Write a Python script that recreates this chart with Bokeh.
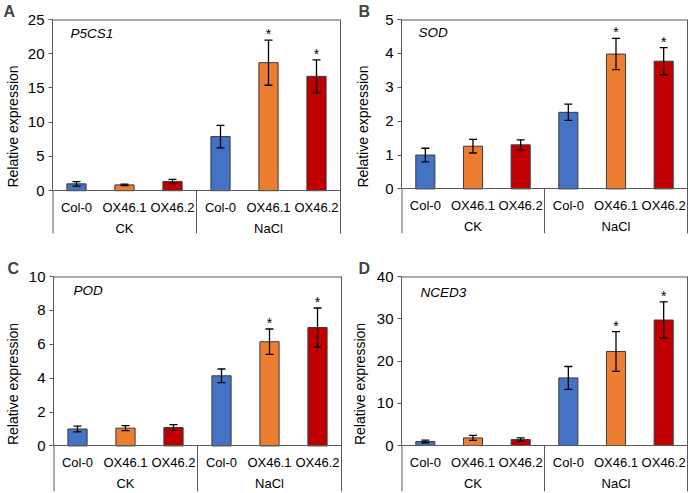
from bokeh.plotting import figure
from bokeh.models import (FactorRange, Range1d, ColumnDataSource, Whisker, TeeHead,
                          Label, FixedTicker, LinearAxis, Span)
from bokeh.layouts import column, row
from bokeh.embed import file_html
from bokeh.resources import INLINE
from bokeh.core.properties import value

FONT = "Liberation Sans"

groups = ["CK", "NaCl"]
lines = ["Col-0", "OX46.1", "OX46.2"]
colors = ["#4472C4", "#ED7D31", "#C00000"]

# Panel A: P5CS1
p5cs1_mean = [1.0, 0.85, 1.35, 7.9, 18.7, 16.7]
p5cs1_err = [0.33, 0.1, 0.3, 1.65, 3.3, 2.4]
p5cs1_sig = [False, False, False, False, True, True]
p5cs1_ticks = [0, 5, 10, 15, 20, 25]

# Panel B: SOD
sod_mean = [1.0, 1.26, 1.3, 2.26, 3.98, 3.77]
sod_err = [0.2, 0.2, 0.15, 0.24, 0.46, 0.4]
sod_sig = [False, False, False, False, True, True]
sod_ticks = [0, 1, 2, 3, 4, 5]

# Panel C: POD
pod_mean = [1.0, 1.05, 1.09, 4.14, 6.15, 6.99]
pod_err = [0.17, 0.15, 0.17, 0.4, 0.75, 1.15]
pod_sig = [False, False, False, False, True, True]
pod_ticks = [0, 2, 4, 6, 8, 10]

# Panel D: NCED3
nced3_mean = [0.95, 1.8, 1.4, 16.0, 22.25, 29.7]
nced3_err = [0.3, 0.6, 0.4, 2.7, 4.7, 4.3]
nced3_sig = [False, False, False, False, True, True]
nced3_ticks = [0, 10, 20, 30, 40]

AXIS_COLOR = "#595959"


def make_panel(letter, gene, means, errs, sig, ticks, width, height,
               bl, br, bt, data_h, below_h, letter_off, gene_xy, label_standoff):
    ymax = ticks[-1]
    ystart = -ymax * below_h / data_h
    factors = [(g, l) for g in groups for l in lines]
    xr = FactorRange(*factors, group_padding=0, factor_padding=0, range_padding=0)
    bb = height - bt - data_h - below_h
    p = figure(x_range=xr, y_range=Range1d(ystart, ymax),
               width=width, height=height, output_backend="svg",
               toolbar_location=None, min_border_left=bl, min_border_right=br,
               min_border_top=bt, min_border_bottom=bb)
    p.outline_line_color = None
    p.grid.visible = False

    src = ColumnDataSource(dict(
        x=factors,
        top=means,
        upper=[m + e for m, e in zip(means, errs)],
        lower=[m - e for m, e in zip(means, errs)],
        color=colors * len(groups),
    ))
    p.vbar(x="x", top="top", width=0.4, fill_color="color",
           line_color="#3a3a3a", line_width=1, source=src)

    w = Whisker(source=src, base="x", upper="upper", lower="lower",
                line_color="black", line_width=1.3, level="overlay",
                upper_head=TeeHead(size=8, line_color="black", line_width=1.3),
                lower_head=TeeHead(size=8, line_color="black", line_width=1.3))
    p.add_layout(w)

    sx = [f for f, s in zip(factors, sig) if s]
    sy = [m + e for m, e, s in zip(means, errs, sig) if s]
    p.text(x=sx, y=sy, text=["*"] * len(sx), text_align="center",
           text_baseline="alphabetic", text_font=value(FONT),
           text_font_size="14px", text_color="black", y_offset=-6)

    # frame lines: top edge, separators below the category axis
    p.add_layout(Span(location=ymax, dimension="width", line_color=AXIS_COLOR, line_width=2))
    n = len(lines)
    sep_x = [0, n]
    p.segment(x0=sep_x, y0=[ystart] * 2, x1=sep_x, y1=[0, 0],
              line_color=AXIS_COLOR, line_width=[2, 1])

    # y axis (left)
    ya = p.yaxis[0]
    ya.bounds = (0, ymax)
    ya.ticker = FixedTicker(ticks=ticks)
    ya.minor_tick_line_color = None
    ya.major_tick_in = 0
    ya.major_tick_out = 4
    ya.major_tick_line_color = AXIS_COLOR
    ya.axis_line_color = AXIS_COLOR
    ya.major_label_text_font = FONT
    ya.major_label_text_font_size = "15px"
    ya.major_label_text_color = "black"
    ya.major_label_standoff = 4
    ya.axis_label = "Relative expression"
    ya.axis_label_text_font = FONT
    ya.axis_label_text_font_style = "normal"
    ya.axis_label_text_font_size = "14px"
    ya.axis_label_text_color = "black"
    ya.axis_label_standoff = label_standoff

    # right edge line
    ra = LinearAxis(ticker=FixedTicker(ticks=[]), axis_line_color=AXIS_COLOR,
                    major_tick_line_color=None, minor_tick_line_color=None,
                    major_label_text_font_size="0px", major_label_standoff=0)
    p.add_layout(ra, "right")

    # x axis at y = 0
    xa = p.xaxis[0]
    xa.fixed_location = 0
    xa.major_tick_line_color = None
    xa.minor_tick_line_color = None
    xa.axis_line_color = AXIS_COLOR
    xa.major_label_text_font = FONT
    xa.major_label_text_font_size = "13px"
    xa.major_label_text_color = "black"
    xa.major_label_standoff = 3
    xa.group_text_font = FONT
    xa.group_text_font_size = "13px"
    xa.group_text_font_style = "normal"
    xa.group_text_color = "black"
    xa.separator_line_color = None

    p.title.text = letter
    p.title.text_font = FONT
    p.title.text_font_style = "bold"
    p.title.text_font_size = "16px"
    p.title.text_line_height = 0.8
    p.title.align = "left"
    p.title.offset = letter_off
    p.title.standoff = 0

    p.add_layout(Label(x=gene_xy[0], y=gene_xy[1], x_units="canvas", y_units="canvas",
                       text=gene, text_font=FONT, text_font_style="italic",
                       text_font_size="13.5px", text_baseline="middle", text_color="black"))
    return p


pA = make_panel("A", "P5CS1", p5cs1_mean, p5cs1_err, p5cs1_sig, p5cs1_ticks,
                344, 247, 52, 4, 17, 176, 44, -49, (70, 33), 4)
pB = make_panel("B", "SOD", sod_mean, sod_err, sod_sig, sod_ticks,
                344, 247, 57, 1, 17, 171, 45, -43, (74, 32), 11)
pC = make_panel("C", "POD", pod_mean, pod_err, pod_sig, pod_ticks,
                344, 246, 53, 3, 27, 171, 46, -46, (73, 43), 5)
pD = make_panel("D", "NCED3", nced3_mean, nced3_err, nced3_sig, nced3_ticks,
                344, 246, 57, 1, 29, 169, 46, -43, (76, 45), 6)

layout = column(row(pA, pB), row(pC, pD))
open("out.html", "w").write(file_html(layout, INLINE))
